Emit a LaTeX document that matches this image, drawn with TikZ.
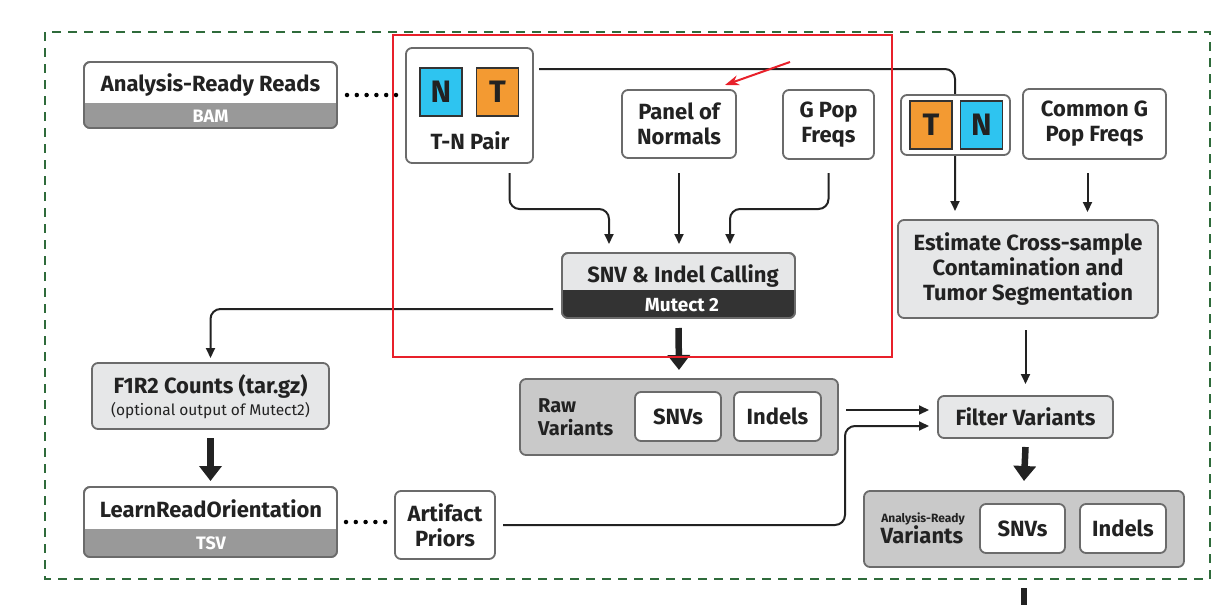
\documentclass[tikz,border=0pt]{standalone}
\usepackage{fontspec}
\setmainfont{Fira Sans}
\usetikzlibrary{arrows.meta}

\definecolor{boxline}{HTML}{6B6B6B}
\definecolor{lightfill}{HTML}{E6E7E8}
\definecolor{midfill}{HTML}{C9C9C9}
\definecolor{bandgray}{HTML}{999999}
\definecolor{banddark}{HTML}{333333}
\definecolor{normblue}{HTML}{2EC4F0}
\definecolor{tumororange}{HTML}{F39A32}
\definecolor{framegreen}{HTML}{2F6B3B}
\definecolor{textdark}{HTML}{222222}
\definecolor{markred}{HTML}{E8202A}

\tikzset{
  box/.style={draw=boxline, line width=1.8pt, rounded corners=6pt, inner sep=0pt, outer sep=0pt,
    text=textdark, font=\bfseries\fontsize{22}{25}\selectfont, align=center},
  whitebox/.style={box, fill=white},
  lightbox/.style={box, fill=lightfill},
  groupbox/.style={box, fill=midfill},
  sqbox/.style={draw=banddark, line width=1.8pt, inner sep=0pt, minimum width=42pt, minimum height=48pt,
    text=textdark, font=\bfseries\fontsize{31}{31}\selectfont},
  label/.style={text=textdark, font=\bfseries\fontsize{22}{25}\selectfont, inner sep=0pt, align=center},
  bandlabel/.style={text=white, font=\bfseries\fontsize{18}{20}\selectfont, inner sep=0pt},
  arr/.style={-{Triangle[length=10pt,width=9pt]}, line width=2pt, draw=textdark},
  thickarr/.style={-{Triangle[length=15pt,width=22pt]}, line width=6.5pt, draw=textdark},
  dots/.style={line width=4.5pt, line cap=round, dash pattern=on 0pt off 9.8pt, draw=black},
}

\begin{document}
\begin{tikzpicture}[x=1pt,y=-1pt]

  \useasboundingbox (0,0) rectangle (1229,605);

  % dashed frame round the workflow
  \draw [framegreen, line width=2pt, dash pattern=on 9pt off 7pt] (45,32) rectangle (1210,579);

  % pre-processing boxes
  \node[whitebox, minimum width=253pt, minimum height=66pt] (reads) at (210.5,95) {};
  \node[lightbox, minimum width=237pt, minimum height=66pt] (f1r2) at (210.5,396) {};
  \node[whitebox, minimum width=253pt, minimum height=70pt] (learn) at (210.5,522) {};
  \node[whitebox, minimum width=100pt, minimum height=68pt] (priors) at (445,525) {Artifact\\Priors};

  % calling boxes
  \node[whitebox, minimum width=127pt, minimum height=115pt] (pair) at (469.5,105.5) {};
  \node[whitebox, minimum width=114pt, minimum height=68pt] (pon) at (679,124) {Panel of\\Normals};
  \node[whitebox, minimum width=91pt, minimum height=69pt] (gpop) at (828.5,124.5) {G Pop\\Freqs};
  \node[lightbox, minimum width=233pt, minimum height=65pt] (calling) at (678.5,285.5) {};
  \node[groupbox, minimum width=318pt, minimum height=76pt] (raw) at (679,417) {};
  \node[whitebox, minimum width=86pt, minimum height=49pt] (rawsnv) at (678,416.5) {SNVs};
  \node[whitebox, minimum width=87pt, minimum height=49pt] (rawindel) at (777.5,416.5) {Indels};

  % filtering boxes
  \node[whitebox, minimum width=143pt, minimum height=70pt] (commong) at (1094.5,124) {Common G\\Pop Freqs};
  \node[lightbox, minimum width=260pt, minimum height=98pt] (estimate) at (1028,269)
    {Estimate Cross-sample\\Contamination and\\Tumor Segmentation};
  \node[lightbox, minimum width=175pt, minimum height=42pt] (filter) at (1025.5,417) {Filter Variants};
  \node[groupbox, minimum width=320pt, minimum height=76pt] (ready) at (1024,529) {};
  \node[whitebox, minimum width=85pt, minimum height=49pt] (readysnv) at (1022.5,528.5) {SNVs};
  \node[whitebox, minimum width=86pt, minimum height=49pt] (readyindel) at (1123,528.5) {Indels};

  % bottom bands of the output boxes
  \foreach \n/\h/\c in {reads/25pt/bandgray, calling/28pt/banddark, learn/28pt/bandgray} {
    \begin{scope}
      \clip [rounded corners=6pt] (\n.north west) rectangle (\n.south east);
      \fill [\c] (\n.south west) rectangle ([yshift=\h]\n.south east);
    \end{scope}
    \draw [boxline, line width=1.8pt, rounded corners=6pt] (\n.north west) rectangle (\n.south east);
  }

  % texts of the boxes
  \node[label, anchor=base] (readslbl) at (210.5,91) {Analysis-Ready Reads};
  \node[bandlabel, anchor=base] (readsband) at (210.5,122) {BAM};
  \node[label, anchor=base] (f1r2lbl) at (210.5,393) {F1R2 Counts (tar.gz)};
  \node[anchor=base, inner sep=0pt, text=textdark, font=\fontsize{15.5}{17}\selectfont] (f1r2note) at (210.5,415)
    {(optional output of Mutect2)};
  \node[label, anchor=base] (learnlbl) at (211,517) {LearnReadOrientation};
  \node[bandlabel, anchor=base] (learnband) at (211,549) {TSV};
  \node[label, anchor=base] (calllbl) at (683,282) {SNV \& Indel Calling};
  \node[bandlabel, anchor=base, font=\bfseries\fontsize{19}{20}\selectfont] (callband) at (682,311) {Mutect 2};
  \node[label, anchor=west, align=left, font=\bfseries\fontsize{20}{23}\selectfont] (rawlbl) at (538,417) {Raw\\Variants};
  \node[label, anchor=base, font=\bfseries\fontsize{12}{13}\selectfont] (readysmall) at (923,522) {Analysis-Ready};
  \node[label, anchor=base] (readylbl) at (922,543) {Variants};

  % tumor and normal of the pair
  \node[sqbox, fill=normblue] (pairN) at (441,92) {N};
  \node[sqbox, fill=tumororange] (pairT) at (497.5,92) {T};
  \node[label, anchor=base] (pairlbl) at (470,149) {T-N Pair};

  % dotted links
  \draw [dots] ([xshift=10pt]reads.east) -- ([xshift=-9pt]reads.east -| pair.west);
  \draw [dots] ([xshift=9pt]learn.east) -- ([xshift=-8pt]learn.east -| priors.west);

  % arrows into the caller
  \draw [arr, rounded corners=10pt] ([xshift=40pt,yshift=-10pt]pair.south) -- ++(0,36)
    -| ([xshift=47pt,yshift=9pt]calling.north west);
  \draw [arr] ([yshift=-15pt]pon.south) -- ([yshift=9pt]calling.north -| pon.south);
  \draw [arr, rounded corners=10pt] ([yshift=-14pt]gpop.south) -- ++(0,36)
    -| ([xshift=-65pt,yshift=9pt]calling.north east);

  % arrows out of the caller
  \draw [arr, rounded corners=10pt] ([xshift=-9pt,yshift=9pt]calling.south west) -| ([yshift=5pt]f1r2.north);
  \draw [thickarr] ([yshift=-10pt]calling.south) -- ([yshift=9pt]raw.north);
  \draw [thickarr] ([yshift=-9pt]f1r2.south) -- ([yshift=6pt]learn.north);

  % pair to the contamination step
  \draw [arr, rounded corners=10pt] ([xshift=6pt,yshift=-21pt]pair.north east)
    -| ([xshift=57pt,yshift=9pt]estimate.north west);
  \node[whitebox, minimum width=109pt, minimum height=60pt] (pairbox) at (955.5,125) {};
  \node[sqbox, fill=tumororange] (againT) at (931,125) {T};
  \node[sqbox, fill=normblue] (againN) at (981.5,125) {N};

  % filtering arrows
  \draw [arr] ([xshift=-7pt,yshift=-14pt]commong.south) -- ([xshift=-7pt,yshift=8pt]commong.south |- estimate.north);
  \draw [arr] ([yshift=-12pt]filter.north |- estimate.south) -- ([yshift=12pt]filter.north);
  \draw [arr] ([xshift=8pt,yshift=7pt]raw.east |- filter.west) -- ([xshift=-9pt,yshift=7pt]filter.west);
  \draw [arr, rounded corners=10pt] ([xshift=8pt]priors.east) -- ++(342,0)
    |- ([xshift=-9pt,yshift=-9pt]filter.west);
  \draw [thickarr] ([yshift=-9pt]filter.south) -- ([yshift=10pt]ready.north);
  \coordinate (next) at (1024,640);
  \draw [thickarr] ([yshift=-21pt]ready.south) -- (next);

  % red marks
  \draw [markred, line width=2pt] (393,35) rectangle (892,357);
  \coordinate (note) at (790,62);
  \draw [markred, line width=2pt, -{Stealth[length=14pt,width=10pt]}] (note) -- ([xshift=-11pt,yshift=5pt]pon.north east);

\end{tikzpicture}
\end{document}
